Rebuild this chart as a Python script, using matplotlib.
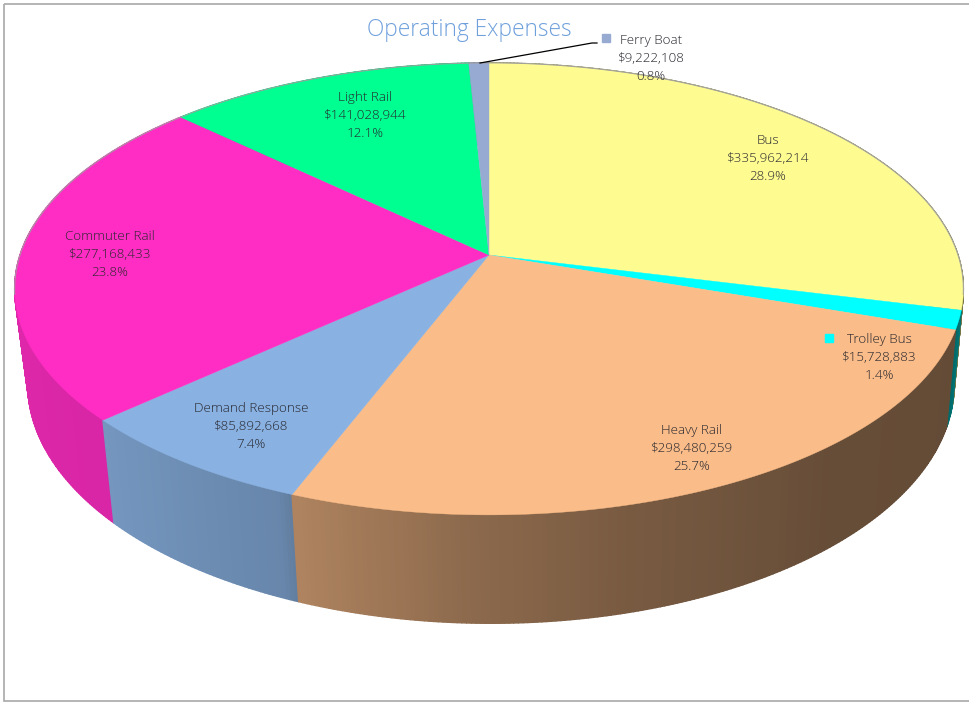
import numpy as np
import matplotlib
matplotlib.use("Agg")
import matplotlib.pyplot as plt
from matplotlib.collections import PolyCollection
from matplotlib.patches import Rectangle

# ---- data (clockwise from 12 o'clock) ----
categories = ["Bus", "Trolley Bus", "Heavy Rail", "Demand Response",
              "Commuter Rail", "Light Rail", "Ferry Boat"]
expenses = [335962214, 15728883, 298480259, 85892668,
            277168433, 141028944, 9222108]
percents = ["28.9%", "1.4%", "25.7%", "7.4%", "23.8%", "12.1%", "0.8%"]
colors = ["#FEFB91", "#00FFFF", "#FABC88", "#89B1E1",
          "#FF2DC3", "#00FF91", "#96AAD2"]
label_xy = [(768, 140.5), (879, 339.5), (692, 430.5), (251, 408.5),
            (110, 236.5), (365, 97.5), (651, 40.5)]
key_xy = {"Trolley Bus": (829, 338), "Ferry Boat": (606, 38)}
title = "Operating Expenses"

plt.rcParams["font.family"] = ["Open Sans", "DejaVu Sans"]
fig = plt.figure(figsize=(9.69, 7.02), dpi=100)
ax = fig.add_axes([0, 0, 1, 1])
ax.set_xlim(0, 969)
ax.set_ylim(702, 0)
ax.axis("off")

ax.add_patch(Rectangle((4.5, 4), 970, 697, fill=False, ec="#A8A8A8", lw=1.2))

# perspective projection of the pie disc
K = 0.15
CX = 489


def project(deg, A, B, x0, y0):
    t = np.radians(deg)
    X, Y = np.sin(t), np.cos(t)
    s = 1 / (1 + K * Y)
    return x0 + A * X * s, y0 - B * Y * s


def top(deg):
    return project(deg, 469, 220.9, CX, 255)


def bottom(deg):
    return project(deg, 458, 234, CX + 2, 348)


shade_deg = [0, 104, 110, 140, 165, 182, 201, 203, 228, 314, 360]
shade_val = [0.45, 0.47, 0.40, 0.41, 0.48, 0.56, 0.70, 0.76, 0.85, 0.90, 0.6]


def shaded(hex_color, deg):
    rgb = np.array(matplotlib.colors.to_rgb(hex_color))
    return tuple(rgb * np.interp(deg, shade_deg, shade_val))


total = sum(expenses)
edges = np.concatenate([[0], np.cumsum(expenses) / total * 360])

# side walls, back to front
for i in [6, 5, 0, 4, 1, 3, 2]:
    a = np.linspace(edges[i], edges[i + 1], max(int(edges[i + 1] - edges[i]) * 2, 2) + 1)
    quads, cols = [], []
    for a0, a1 in zip(a[:-1], a[1:]):
        tx, ty = top(np.array([a0, a1]))
        bx, by = bottom(np.array([a1, a0]))
        quads.append(np.column_stack([np.r_[tx, bx], np.r_[ty, by]]))
        cols.append(shaded(colors[i], (a0 + a1) / 2))
    ax.add_collection(PolyCollection(quads, facecolors=cols, edgecolors=cols, linewidths=1.0))

# top faces
for i in range(len(expenses)):
    a = np.linspace(edges[i], edges[i + 1], 200)
    x, y = top(a)
    ax.fill(np.r_[CX, x], np.r_[255, y], color=colors[i], lw=0.3, zorder=3)

# rim of the back half
arc = np.linspace(-100, 100, 400)
ax.plot(*top(arc), color="#A0A0A0", lw=0.7, zorder=4)

# labels
for cat, val, pct, col, (lx, ly) in zip(categories, expenses, percents, colors, label_xy):
    for j, line in enumerate([cat, f"${val:,}", pct]):
        ax.text(lx, ly + j * 17.8, line, ha="center", va="center", fontsize=9.6,
                color="#26262E", fontweight=300, zorder=6)
    if cat in key_xy:
        kx, ky = key_xy[cat]
        ax.add_patch(Rectangle((kx - 4, ky - 4), 8, 8, color=col, zorder=6))

ax.plot([480, 592, 597], [63, 43, 43], color="black", lw=0.9, zorder=5)

ax.text(469.5, 30.5, title, ha="center", va="center", fontsize=16.4,
        color="#6FA0DC", fontweight=300, zorder=6)

fig.savefig("out.png", dpi=100)
